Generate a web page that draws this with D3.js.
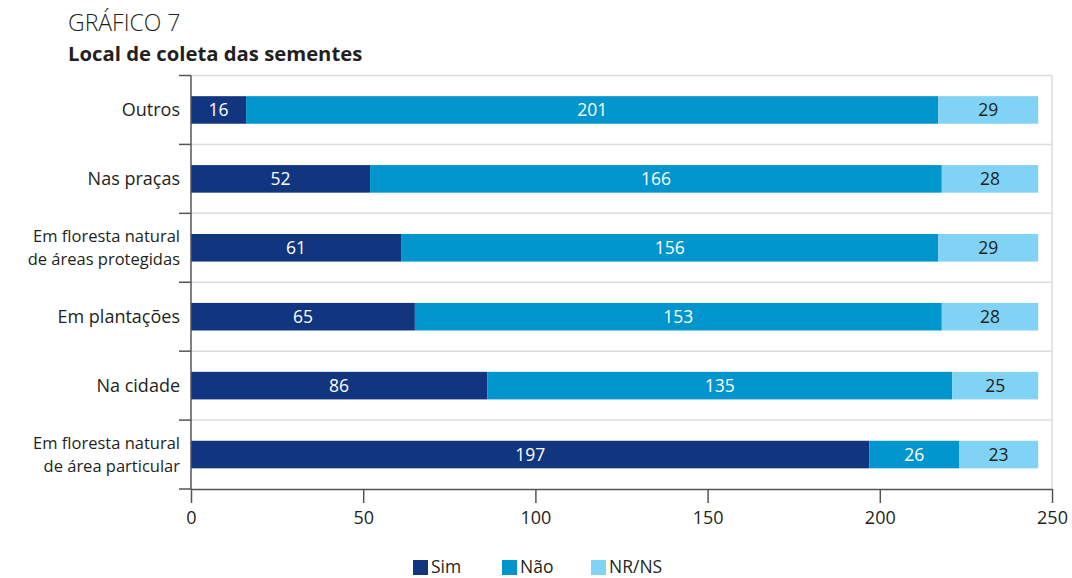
<!DOCTYPE html>
<html><head><meta charset="utf-8">
<script src="https://cdn.jsdelivr.net/npm/d3@7"></script>
<style>body{margin:0;background:#fff;} text{font-family:"Open Sans",sans-serif;}</style>
</head><body><svg id="c" width="1072" height="578"></svg>
<script>
const categories = ["Outros","Nas praças","Em floresta natural\nde áreas protegidas","Em plantações","Na cidade","Em floresta natural\nde área particular"];
const seriesNames = ["Sim","Não","NR/NS"];
const sim = [16,52,61,65,86,197];
const nao = [201,166,156,153,135,26];
const nrns = [29,28,29,28,25,23];
const xTicks = [0,50,100,150,200,250];
const colors = ["#12357f","#0095cc","#80d3f5"];
const labelColors = ["#fff","#fff","#231f20"];

const svg = d3.select("#c");
const m = {l:191, r:1052, t:75.5, b:489};
const x = d3.scaleLinear().domain([0,250]).range([m.l,m.r]);
const y = d3.scaleBand().domain(categories).range([m.t,m.b]).paddingInner(0.6).paddingOuter(0.3);

svg.append("text").attr("x",68).attr("y",31).attr("font-size",23).attr("font-weight",300).attr("fill","#231f20").text("GRÁFICO 7");
svg.append("text").attr("x",68).attr("y",61).attr("font-size",20.3).attr("font-weight",700).attr("fill","#231f20").text("Local de coleta das sementes");

// grid lines at band boundaries
const step = (m.b-m.t)/categories.length;
const bounds = d3.range(categories.length).map(i=>m.t+i*step);
svg.append("g").selectAll("line").data(bounds).join("line")
 .attr("x1",m.l).attr("x2",m.r).attr("y1",d=>d).attr("y2",d=>d)
 .attr("stroke","#dcdcdc").attr("stroke-width",1.5);
svg.append("line").attr("x1",m.r).attr("x2",m.r).attr("y1",m.t).attr("y2",m.b).attr("stroke","#dcdcdc").attr("stroke-width",1.5);

const data = categories.map((c,i)=>({cat:c, vals:[sim[i],nao[i],nrns[i]]}));
const g = svg.append("g");
data.forEach(d=>{
  let acc=0;
  d.vals.forEach((v,k)=>{
    const x0=x(acc), x1=x(acc+v);
    g.append("rect").attr("x",x0).attr("y",y(d.cat)).attr("width",x1-x0).attr("height",y.bandwidth()).attr("fill",colors[k]);
    g.append("text").attr("x",(x0+x1)/2).attr("y",y(d.cat)+y.bandwidth()/2).attr("dy","0.36em")
     .attr("text-anchor","middle").attr("font-size",17.5).attr("fill",labelColors[k]).text(v);
    acc+=v;
  });
});

// left axis
svg.append("line").attr("x1",m.l).attr("x2",m.l).attr("y1",m.t).attr("y2",m.b).attr("stroke","#555").attr("stroke-width",1.5);
svg.append("g").selectAll("line").data(bounds.concat([m.b])).join("line")
 .attr("x1",m.l-12).attr("x2",m.l).attr("y1",d=>d).attr("y2",d=>d).attr("stroke","#555").attr("stroke-width",1.5);
categories.forEach(c=>{
  const lines=c.split("\n");
  const cy=y(c)+y.bandwidth()/2;
  const fs = lines.length>1 ? 16.5 : 18;
  lines.forEach((ln,j)=>{
    svg.append("text").attr("text-anchor","end").attr("font-size",fs).attr("fill","#231f20")
      .attr("x",180).attr("y",cy+(j-(lines.length-1)/2)*22.6).attr("dy","0.36em").text(ln);
  });
});

// bottom axis
const xa = svg.append("g").attr("transform",`translate(0,${m.b})`).call(d3.axisBottom(x).tickValues(xTicks).tickSize(14).tickPadding(8).tickSizeOuter(0));
xa.select(".domain").attr("stroke","#555").attr("stroke-width",1.5);
xa.selectAll(".tick line").attr("stroke","#555").attr("stroke-width",1.5);
xa.selectAll(".tick text").attr("font-size",18).attr("fill","#231f20").attr("font-family","Open Sans, sans-serif");

// legend
const lx=[413,502,591];
seriesNames.forEach((s,k)=>{
  svg.append("rect").attr("x",lx[k]).attr("y",560).attr("width",15).attr("height",15).attr("fill",colors[k]);
  svg.append("text").attr("x",lx[k]+18).attr("y",573).attr("font-size",17.5).attr("fill","#231f20").text(s);
});
</script></body></html>
